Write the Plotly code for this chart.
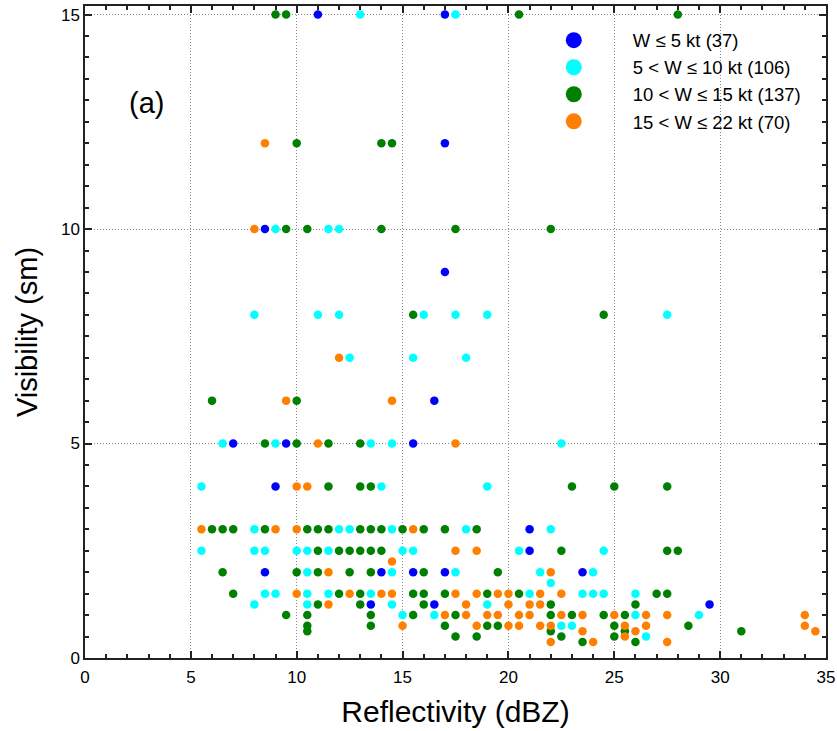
import plotly.graph_objects as go

# ---- data (reflectivity dBZ, visibility sm) ----
names = ["W \u2264 5 kt (37)", "5 < W \u2264 10 kt (106)", "10 < W \u2264 15 kt (137)", "15 < W \u2264 22 kt (70)"]
colors = ["#0000FF", "#00FFFF", "#008000", "#FF8000"]

blue_x = [11, 17, 17, 8.5, 17, 16.5, 7, 9.5, 15.5, 9, 21, 21, 8.5, 14, 15.5, 17, 23.5, 13.5, 16.5, 29.5]
blue_y = [15, 15, 12, 10, 9, 6, 5, 5, 5, 4, 3, 2.5, 2, 2, 2, 2, 2, 1.25, 1.25, 1.25]

cyan_x = [13, 17.5,
          9, 11.5, 12,
          8, 11, 12, 16, 17.5, 19, 27.5,
          12.5, 15.5, 18,
          6.5, 9, 13.5, 14.5, 22.5,
          5.5, 14, 19,
          8, 12, 12.5, 14.5, 18, 22,
          5.5, 8, 8.5, 10, 10.5, 11.5, 15, 15.5, 20.5, 24.5,
          10.5, 14.5, 17.5, 21.5, 24,
          22,
          8.5, 9, 10.5, 11.5, 13.5, 21, 23.5, 24, 24.5, 26,
          8, 10.5, 14.5, 19,
          15, 16.5, 26, 29,
          22.5, 23,
          26.5]
cyan_y = [15, 15,
          10, 10, 10,
          8, 8, 8, 8, 8, 8, 8,
          7, 7, 7,
          5, 5, 5, 5, 5,
          4, 4, 4,
          3, 3, 3, 3, 3, 3,
          2.5, 2.5, 2.5, 2.5, 2.5, 2.5, 2.5, 2.5, 2.5, 2.5,
          2, 2, 2, 2, 2,
          1.75,
          1.5, 1.5, 1.5, 1.5, 1.5, 1.5, 1.5, 1.5, 1.5, 1.5,
          1.25, 1.25, 1.25, 1.25,
          1, 1, 1, 1,
          0.75, 0.75,
          0.5]

green_x = [9, 9.5, 20.5, 28,
           10, 14, 14.5,
           9.5, 10.5, 14, 17.5, 22,
           15.5, 24.5,
           6, 10,
           8.5, 10, 11.5, 13,
           11.5, 13, 13.5, 23, 25, 27.5,
           6, 6.5, 7, 8.5, 10.5, 11, 11.5, 13, 13.5, 14, 15, 16, 17, 18.5,
           11, 12, 12.5, 13, 13.5, 14, 22.5, 27.5, 28,
           6.5, 10, 11, 12.5, 13.5, 16, 19.5,
           7, 12, 13, 15.5, 16, 17, 19, 20.5, 27, 27.5,
           11, 13, 16, 22, 26,
           9.5, 10.5, 13.5, 15.5, 17.5, 22, 23, 24.5, 25.5,
           10.5, 13.5, 17, 19, 19.5, 25, 28.5,
           10.5, 22, 25.5, 31,
           17.5, 18.5, 22.5, 25,
           23.5, 26]
green_y = [15, 15, 15, 15,
           12, 12, 12,
           10, 10, 10, 10, 10,
           8, 8,
           6, 6,
           5, 5, 5, 5,
           4, 4, 4, 4, 4, 4,
           3, 3, 3, 3, 3, 3, 3, 3, 3, 3, 3, 3, 3, 3,
           2.5, 2.5, 2.5, 2.5, 2.5, 2.5, 2.5, 2.5, 2.5,
           2, 2, 2, 2, 2, 2, 2,
           1.5, 1.5, 1.5, 1.5, 1.5, 1.5, 1.5, 1.5, 1.5, 1.5,
           1.25, 1.25, 1.25, 1.25, 1.25,
           1, 1, 1, 1, 1, 1, 1, 1, 1,
           0.75, 0.75, 0.75, 0.75, 0.75, 0.75, 0.75,
           0.625, 0.625, 0.625, 0.625,
           0.5, 0.5, 0.5, 0.5,
           0.375, 0.375]

orange_x = [8.5,
            8,
            12,
            9.5, 14.5,
            11, 17.5,
            10, 10.5,
            5.5, 9, 10, 15.5,
            17.5, 18.5,
            14.5,
            11.5, 22,
            10, 12.5, 14, 14.5, 17.5, 18.5, 19.5, 20, 21.5, 22.5,
            11.5, 18, 20, 21, 21.5,
            17, 18, 19, 19.5, 20.5, 21, 22.5, 23.5, 25, 26.5, 27.5, 34,
            15, 18.5, 20, 20.5, 21.5, 22, 25.5, 26.5, 34,
            23.5, 26, 34.5,
            25.5,
            22, 24, 27.5]
orange_y = [12,
            10,
            7,
            6, 6,
            5, 5,
            4, 4,
            3, 3, 3, 3,
            2.5, 2.5,
            2.25,
            2, 2,
            1.5, 1.5, 1.5, 1.5, 1.5, 1.5, 1.5, 1.5, 1.5, 1.5,
            1.25, 1.25, 1.25, 1.25, 1.25,
            1, 1, 1, 1, 1, 1, 1, 1, 1, 1, 1, 1,
            0.75, 0.75, 0.75, 0.75, 0.75, 0.75, 0.75, 0.75, 0.75,
            0.625, 0.625, 0.625,
            0.5,
            0.375, 0.375, 0.375]

series_x = [blue_x, cyan_x, green_x, orange_x]
series_y = [blue_y, cyan_y, green_y, orange_y]

FONT = "Arial, Liberation Sans, sans-serif"

fig = go.Figure()
for xs, ys, c in zip(series_x, series_y, colors):
    fig.add_trace(go.Scatter(x=xs, y=ys, mode="markers", showlegend=False,
                             marker=dict(color=c, size=8.5, line=dict(width=0))))
for n, c in zip(names, colors):
    fig.add_trace(go.Scatter(x=[None], y=[None], mode="markers", name=n,
                             marker=dict(color=c, size=18, line=dict(width=0))))

axis_common = dict(
    showline=True, linecolor="#222", linewidth=1.5, mirror="ticks",
    ticks="inside", ticklen=7, tickwidth=1.5, tickcolor="#222",
    showgrid=True, gridcolor="#8a8a8a", griddash="1px,2px", gridwidth=1,
    zeroline=False, automargin=False,
    tickfont=dict(family=FONT, size=17, color="black"),
)

fig.update_xaxes(range=[0, 35], dtick=5, tick0=0, ticklabelstandoff=3,
                 minor=dict(dtick=1, ticks="inside", ticklen=4, tickwidth=1.5, tickcolor="#222", showgrid=False),
                 title=dict(text="Reflectivity (dBZ)", font=dict(family=FONT, size=30, color="black"), standoff=15),
                 **axis_common)
fig.update_yaxes(range=[0, 15.2], dtick=5, tick0=0,
                 minor=dict(dtick=0.5, ticks="inside", ticklen=4, tickwidth=1.5, tickcolor="#222", showgrid=False),
                 title=dict(text="Visibility (sm)", font=dict(family=FONT, size=29, color="black"), standoff=15),
                 **axis_common)

fig.add_annotation(x=2.89, y=12.94, xref="x", yref="y", text="(a)", showarrow=False,
                   font=dict(family=FONT, size=29, color="black"))

fig.update_layout(
    width=837, height=731,
    margin=dict(l=85, r=11, t=6, b=73),
    plot_bgcolor="white", paper_bgcolor="white",
    legend=dict(x=0.58, y=0.976, xanchor="left", yanchor="top",
                font=dict(family=FONT, size=18.5, color="black"),
                bgcolor="rgba(0,0,0,0)", itemwidth=108),
)

fig.write_html("out.html", config={"displayModeBar": False},
               post_script="document.body.style.margin='0px';")
